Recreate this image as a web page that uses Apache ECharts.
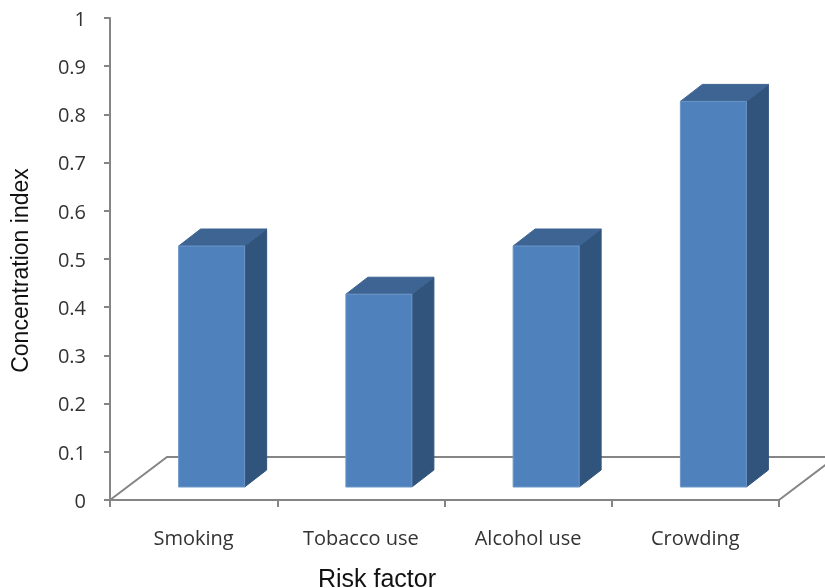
<!DOCTYPE html>
<html>
<head>
<meta charset="utf-8">
<style>html,body{margin:0;padding:0;background:#fff}#chart{width:825px;height:588px}</style>
<script src="https://cdn.jsdelivr.net/npm/echarts@6/dist/echarts.min.js"></script>
</head>
<body>
<div id="chart"></div>
<script>
const categories = ['Smoking', 'Tobacco use', 'Alcohol use', 'Crowding'];
const concentrationIndex = [0.5, 0.4, 0.5, 0.8];
const yTicks = { min: 0, max: 1, interval: 0.1 };

// Oblique projection used for the pseudo-3D columns and the floor (pixels)
const DEPTH_X = 22, DEPTH_Y = 17;
const FLOOR_DX = 57, FLOOR_DY = 43;
const FRONT_LIFT = 13, FRONT_SHIFT = 18, FRONT_WIDTH = 66;

const COL_FRONT = '#4F81BD', COL_TOP = '#3D6492', COL_SIDE = '#31547C', COL_EDGE = '#6D96C8';
const COL_AXIS = '#858585', COL_TICK_TEXT = '#333333';
const TICK_FONT = '"Open Sans", Lato, sans-serif';
const TITLE_FONT = '"Liberation Sans", Arial, sans-serif';

function renderColumn(params, api) {
  const top = api.coord([api.value(0), api.value(1)]);
  const base = api.coord([api.value(0), 0]);
  const x0 = top[0] + FRONT_SHIFT - FRONT_WIDTH / 2;
  const x1 = x0 + FRONT_WIDTH;
  const yTop = top[1] - FRONT_LIFT;
  const yBot = base[1] - FRONT_LIFT;
  const face = (points, fill, stroke) => ({
    type: 'polygon',
    shape: { points },
    style: { fill, stroke, lineWidth: 1 }
  });
  return {
    type: 'group',
    children: [
      face([[x1, yTop], [x1 + DEPTH_X, yTop - DEPTH_Y], [x1 + DEPTH_X, yBot - DEPTH_Y], [x1, yBot]], COL_SIDE, COL_SIDE),
      face([[x0, yTop], [x0 + DEPTH_X, yTop - DEPTH_Y], [x1 + DEPTH_X, yTop - DEPTH_Y], [x1, yTop]], COL_TOP, COL_TOP),
      face([[x0, yTop], [x1, yTop], [x1, yBot], [x0, yBot]], COL_FRONT, COL_EDGE)
    ]
  };
}

// Back and side edges of the floor, running behind the columns
function renderFloor(params, api) {
  const g = params.coordSys;
  const yBase = g.y + g.height;
  return {
    type: 'polyline',
    shape: {
      points: [
        [g.x, yBase],
        [g.x + FLOOR_DX, yBase - FLOOR_DY],
        [g.x + g.width + FLOOR_DX, yBase - FLOOR_DY],
        [g.x + g.width, yBase]
      ]
    },
    style: { fill: null, stroke: COL_AXIS, lineWidth: 2 }
  };
}

const chart = echarts.init(document.getElementById('chart'), null, { renderer: 'canvas' });
chart.setOption({
  animation: false,
  backgroundColor: '#ffffff',
  grid: { left: 110, right: 46, top: 18, bottom: 88, containLabel: false, outerBoundsMode: 'none' },
  xAxis: {
    type: 'category',
    data: categories,
    boundaryGap: true,
    name: 'Risk factor',
    nameLocation: 'middle',
    nameGap: 68,
    nameTextStyle: { fontFamily: TITLE_FONT, fontSize: 25, color: '#111111', padding: [0, 135, 0, 0] },
    axisLine: { lineStyle: { color: COL_AXIS, width: 2 } },
    axisTick: { show: true, length: 7, lineStyle: { color: COL_AXIS, width: 2 } },
    axisLabel: { fontFamily: TICK_FONT, fontSize: 20, color: COL_TICK_TEXT, margin: 29 },
    splitLine: { show: false }
  },
  yAxis: {
    type: 'value',
    min: yTicks.min,
    max: yTicks.max,
    interval: yTicks.interval,
    name: 'Concentration index',
    nameLocation: 'middle',
    nameGap: 77,
    nameRotate: 90,
    nameTextStyle: { fontFamily: TITLE_FONT, fontSize: 23, color: '#111111', padding: [0, 23, 0, 0] },
    axisLine: { show: true, lineStyle: { color: COL_AXIS, width: 2 } },
    axisTick: { show: true, length: 6, lineStyle: { color: COL_AXIS, width: 2 } },
    axisLabel: { fontFamily: TICK_FONT, fontSize: 20, color: COL_TICK_TEXT, margin: 24, verticalAlign: 'top', lineHeight: 4 },
    splitLine: { show: false }
  },
  series: [
    {
      type: 'custom',
      name: 'Floor',
      silent: true,
      z: 1,
      renderItem: renderFloor,
      data: [[0, 0]]
    },
    {
      type: 'custom',
      name: 'Concentration index',
      z: 2,
      renderItem: renderColumn,
      encode: { x: 0, y: 1 },
      data: concentrationIndex.map((v, i) => [i, v])
    }
  ]
});
</script>
</body>
</html>
